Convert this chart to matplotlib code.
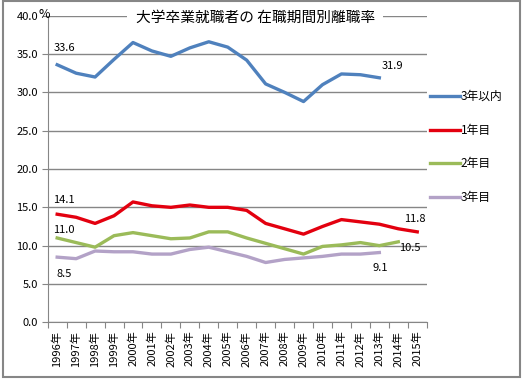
import matplotlib
matplotlib.use('Agg')
import matplotlib.pyplot as plt
from matplotlib.patches import Rectangle
from matplotlib.lines import Line2D
import numpy as np

plt.rcParams['font.family'] = ['Noto Sans CJK JP', 'DejaVu Sans']

# data
years = [str(y) + '年' for y in range(1996, 2016)]
within3 = [33.6, 32.5, 32.0, 34.3, 36.5, 35.4, 34.7, 35.8, 36.6, 35.9,
           34.2, 31.1, 30.0, 28.8, 31.0, 32.4, 32.3, 31.9]
year1 = [14.1, 13.7, 12.9, 13.9, 15.7, 15.2, 15.0, 15.3, 15.0, 15.0,
         14.6, 12.9, 12.2, 11.5, 12.5, 13.4, 13.1, 12.8, 12.2, 11.8]
year2 = [11.0, 10.4, 9.8, 11.3, 11.7, 11.3, 10.9, 11.0, 11.8, 11.8,
         11.0, 10.3, 9.6, 8.9, 9.9, 10.1, 10.4, 10.0, 10.5]
year3 = [8.5, 8.3, 9.3, 9.2, 9.2, 8.9, 8.9, 9.5, 9.8, 9.2,
         8.6, 7.8, 8.2, 8.4, 8.6, 8.9, 8.9, 9.1]
names = ['3年以内', '1年目', '2年目', '3年目']
colors = ['#4F81BD', '#E3000F', '#9BBB59', '#B3A2C7']

fig = plt.figure(figsize=(5.23, 3.83), dpi=100)
ax = fig.add_axes([0.0912, 0.1585, 0.7247, 0.8005])

series = [within3, year1, year2, year3]
for vals, c in zip(series, colors):
    ax.plot(np.arange(len(vals)), vals, color=c, lw=2.4, solid_joinstyle='round')

ax.set_xlim(-0.5, len(years) - 0.5)
ax.set_ylim(0, 40)
ax.set_yticks(np.arange(0, 40.1, 5))
ax.set_yticklabels(['%.1f' % v for v in np.arange(0, 40.1, 5)], fontsize=8)
ax.set_xticks(np.arange(-0.5, len(years), 1))
ax.set_xticklabels([])
ax.set_xticks(np.arange(len(years)), minor=True)
ax.set_xticklabels(years, minor=True, rotation=90, fontsize=8)
ax.tick_params(axis='x', which='major', length=4, color='#868686')
ax.tick_params(axis='x', which='minor', length=0, pad=6)
ax.tick_params(axis='y', length=4, color='#868686', pad=3)
ax.grid(axis='y', color='#868686', lw=1)
ax.set_axisbelow(True)
for s in ['top', 'right']:
    ax.spines[s].set_visible(False)
for s in ['left', 'bottom']:
    ax.spines[s].set_color('#868686')

# data labels (offsets in pixels)
def lab(x, y, dx, dy):
    ax.annotate('%.1f' % y, (x, y), xytext=(dx, dy), textcoords='offset pixels',
                ha='center', va='center', fontsize=8)

lab(0, within3[0], 7, 17)
lab(len(within3) - 1, within3[-1], 13, 12)
lab(0, year1[0], 7, 14)
lab(len(year1) - 1, year1[-1], -2, 13)
lab(0, year2[0], 7, 8)
lab(len(year2) - 1, year2[-1], 12, -6)
lab(0, year3[0], 7, -17)
lab(len(year3) - 1, year3[-1], 1, -15)

fig.text(0.488, 1 - 18 / 383, '大学卒業就職者の 在職期間別離職率', ha='center', va='center',
         fontsize=10.6, bbox=dict(facecolor='white', edgecolor='none', pad=6))
fig.text(44 / 523, 1 - 14 / 383, '%', ha='center', va='center', fontsize=9)

handles = [Line2D([0], [0], color=c, lw=2.4) for c in colors]
fig.legend(handles, names, loc='upper left', bbox_to_anchor=(430 / 523, 1 - 90 / 383),
           frameon=False, fontsize=8.5, handlelength=2.5, handletextpad=0.1,
           labelspacing=1.75, borderpad=0, borderaxespad=0)

fig.patches.append(Rectangle((0.006, 0.015), 0.988, 0.982, transform=fig.transFigure,
                             fill=False, edgecolor='#868686', lw=1.5))

fig.savefig('out.png', dpi=100)
